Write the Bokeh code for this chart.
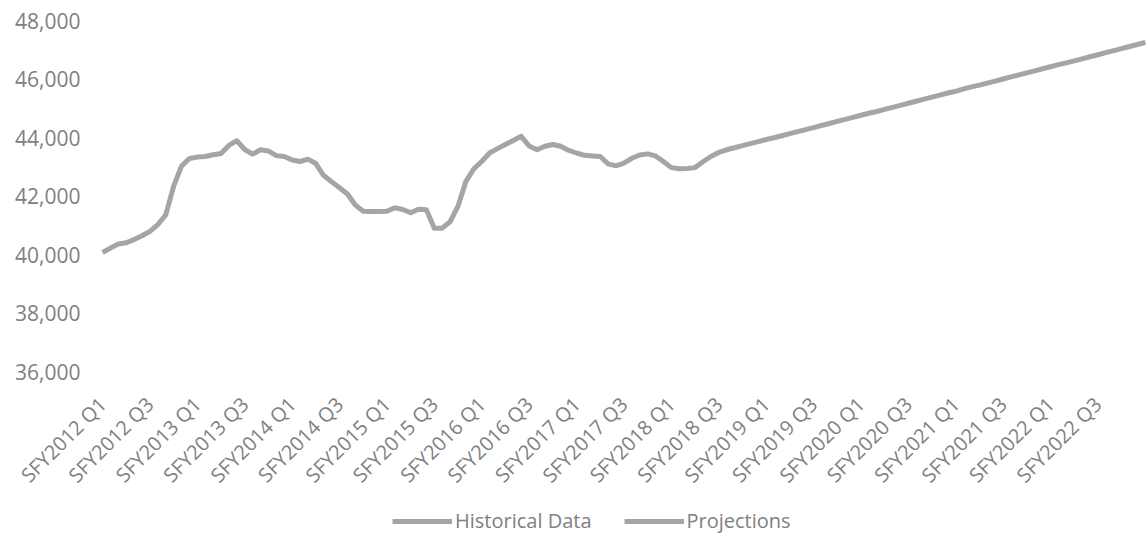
from math import pi
from bokeh.plotting import figure
from bokeh.models import (FixedTicker, NumeralTickFormatter, Legend, LegendItem, Range1d,
                          LinearAxis)
from bokeh.embed import file_html
from bokeh.resources import INLINE

# ---- data (monthly values, SFY2012 Q1 onward) ----
tick_labels = [
    "SFY2012 Q1", "SFY2012 Q3", "SFY2013 Q1", "SFY2013 Q3", "SFY2014 Q1", "SFY2014 Q3",
    "SFY2015 Q1", "SFY2015 Q3", "SFY2016 Q1", "SFY2016 Q3", "SFY2017 Q1", "SFY2017 Q3",
    "SFY2018 Q1", "SFY2018 Q3", "SFY2019 Q1", "SFY2019 Q3", "SFY2020 Q1", "SFY2020 Q3",
    "SFY2021 Q1", "SFY2021 Q3", "SFY2022 Q1", "SFY2022 Q3",
]
months_per_label = 6

historical = [
    40070, 40220, 40360, 40400, 40510, 40640, 40790, 41020, 41350, 42330,
    43020, 43280, 43330, 43350, 43410, 43450, 43730, 43890, 43590, 43430,
    43580, 43540, 43380, 43350, 43230, 43180, 43260, 43110, 42700, 42490,
    42280, 42070, 41690, 41480, 41470, 41470, 41480, 41600, 41540, 41430,
    41550, 41530, 40900, 40900, 41120, 41650, 42500, 42930, 43180, 43470,
    43620, 43760, 43900, 44040, 43710, 43580, 43700, 43760, 43700, 43560,
    43470, 43390, 43370, 43350, 43100, 43030, 43120, 43290, 43400, 43440,
    43370, 43180, 42970, 42930, 42940, 42970, 43170, 43350, 43490, 43580,
    43650,
]

projections = [
    43650, 43720, 43790, 43860, 43930, 43990, 44060, 44130, 44200, 44270,
    44340, 44410, 44480, 44550, 44620, 44690, 44760, 44830, 44890, 44960,
    45030, 45100, 45170, 45240, 45310, 45380, 45450, 45520, 45580, 45660,
    45730, 45790, 45860, 45930, 46000, 46070, 46140, 46210, 46280, 46350,
    46420, 46490, 46550, 46620, 46690, 46760, 46830, 46900, 46970, 47040,
    47110, 47180, 47250,
]

y_ticks = [36000, 38000, 40000, 42000, 44000, 46000, 48000]

# ---- derived x positions ----
hist_x = list(range(len(historical)))
proj_start = len(historical) - 1
proj_x = list(range(proj_start, proj_start + len(projections)))

LINE = "#a5a5a5"
TEXT = "#808080"
FONT = "Open Sans"

W, H = 1147, 544
# plotting frame covers the whole canvas; axes are pinned inside it
px_per_month = 7.9
x_lo = -102 / px_per_month
x_hi = x_lo + W / px_per_month
val_per_px = (y_ticks[-1] - y_ticks[0]) / 351
y_hi = y_ticks[-1] + 20 * val_per_px
y_lo = y_hi - H * val_per_px
y_axis_at = x_lo + 95 / px_per_month

p = figure(
    width=W, height=H,
    output_backend="svg", toolbar_location=None,
    x_axis_location=None, y_axis_location=None,
    x_range=Range1d(x_lo, x_hi), y_range=Range1d(y_lo, y_hi),
    min_border_left=0, min_border_right=0, min_border_top=0, min_border_bottom=0,
)
p.outline_line_color = None
p.background_fill_color = "white"
p.border_fill_color = "white"
p.xgrid.visible = False
p.ygrid.visible = False

r1 = p.line(hist_x, historical, line_color=LINE, line_width=5, line_join="round")
r2 = p.line(proj_x, projections, line_color=LINE, line_width=5, line_join="round")

# y axis
yaxis = LinearAxis(
    fixed_location=y_axis_at,
    ticker=FixedTicker(ticks=y_ticks),
    formatter=NumeralTickFormatter(format="0,0"),
    axis_line_color=None, major_tick_line_color=None, minor_tick_line_color=None,
    major_tick_out=0, major_label_standoff=15,
    major_label_text_font=FONT, major_label_text_font_size="21px",
    major_label_text_color=TEXT,
)
p.add_layout(yaxis, "left")

# x axis, pinned at the bottom of the value scale
xt = [i * months_per_label for i in range(len(tick_labels))]
xaxis = LinearAxis(
    fixed_location=y_ticks[0],
    ticker=FixedTicker(ticks=xt),
    major_label_overrides={t: lab for t, lab in zip(xt, tick_labels)},
    axis_line_color=None, major_tick_line_color=None, minor_tick_line_color=None,
    major_tick_out=0, major_label_standoff=29,
    major_label_orientation=pi / 4,
    major_label_text_font=FONT, major_label_text_font_size="20px",
    major_label_text_color=TEXT,
)
p.add_layout(xaxis, "below")

legend = Legend(
    items=[LegendItem(label="Historical Data", renderers=[r1]),
           LegendItem(label="Projections", renderers=[r2])],
    orientation="horizontal", location=(392, 10),
    glyph_width=60, glyph_height=20, label_standoff=3, spacing=32,
    padding=0, margin=0,
    border_line_alpha=0, background_fill_alpha=0,
    label_text_font=FONT, label_text_font_size="20px", label_text_color=TEXT,
)
p.add_layout(legend, "center")

open("out.html", "w").write(file_html(p, INLINE))
